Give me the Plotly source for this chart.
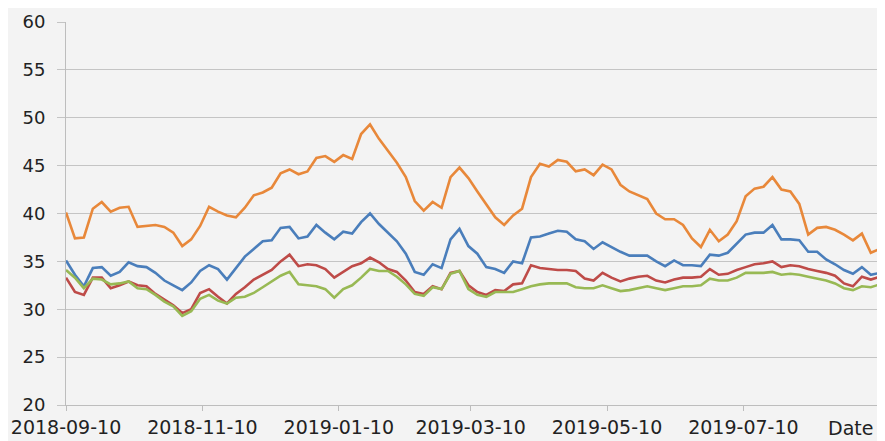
import pandas as pd
import plotly.graph_objects as go

# Sample dates (every 4 days) from 2018-09-10
dates = pd.date_range("2018-09-10", periods=92, freq="4D")

orange = [40.1, 37.4, 37.5, 40.5, 41.2, 40.2, 40.6, 40.7, 38.6, 38.7,
          38.8, 38.6, 38.0, 36.6, 37.3, 38.7, 40.7, 40.2, 39.8, 39.6,
          40.6, 41.9, 42.2, 42.7, 44.2, 44.6, 44.1, 44.4, 45.8, 46.0,
          45.4, 46.1, 45.7, 48.3, 49.3, 47.8, 46.5, 45.3, 43.8, 41.3,
          40.3, 41.2, 40.6, 43.8, 44.8, 43.7, 42.3, 41.0, 39.6, 38.8,
          39.8, 40.5, 43.8, 45.2, 44.9, 45.6, 45.4, 44.4, 44.6, 44.0,
          45.1, 44.6, 43.0, 42.3, 41.9, 41.5, 40.0, 39.4, 39.4, 38.8,
          37.4, 36.5, 38.3, 37.1, 37.8, 39.2, 41.8, 42.6, 42.8, 43.8,
          42.5, 42.3, 41.0, 37.8, 38.5, 38.6, 38.3, 37.8, 37.2, 37.9,
          35.9, 36.3]

blue = [35.1, 33.6, 32.4, 34.3, 34.4, 33.5, 33.9, 34.9, 34.5, 34.4,
        33.8, 33.0, 32.5, 32.0, 32.8, 34.0, 34.6, 34.2, 33.1, 34.3,
        35.5, 36.3, 37.1, 37.2, 38.5, 38.6, 37.4, 37.6, 38.8, 38.0,
        37.3, 38.1, 37.9, 39.1, 40.0, 38.9, 38.0, 37.1, 35.8, 33.9,
        33.6, 34.7, 34.3, 37.3, 38.4, 36.6, 35.8, 34.4, 34.2, 33.8,
        35.0, 34.8, 37.5, 37.6, 37.9, 38.2, 38.1, 37.3, 37.1, 36.3,
        37.0, 36.5, 36.0, 35.6, 35.6, 35.6, 35.0, 34.5, 35.1, 34.6,
        34.6, 34.5, 35.7, 35.6, 35.9, 36.9, 37.8, 38.0, 38.0, 38.8,
        37.3, 37.3, 37.2, 36.0, 36.0, 35.2, 34.7, 34.1, 33.7, 34.4,
        33.6, 33.8]

red = [33.3, 31.8, 31.5, 33.3, 33.3, 32.2, 32.5, 32.9, 32.5, 32.4,
       31.6, 31.0, 30.4, 29.6, 30.0, 31.7, 32.1, 31.3, 30.6, 31.6,
       32.3, 33.1, 33.6, 34.1, 35.0, 35.7, 34.5, 34.7, 34.6, 34.2,
       33.3, 33.9, 34.5, 34.8, 35.4, 34.9, 34.2, 33.9, 33.0, 31.8,
       31.6, 32.4, 32.1, 33.8, 34.0, 32.5, 31.8, 31.5, 32.0, 31.9,
       32.6, 32.7, 34.6, 34.3, 34.2, 34.1, 34.1, 34.0, 33.2, 33.0,
       33.8, 33.3, 32.9, 33.2, 33.4, 33.5, 33.0, 32.8, 33.1, 33.3,
       33.3, 33.4, 34.2, 33.6, 33.7, 34.1, 34.4, 34.7, 34.8, 35.0,
       34.4, 34.6, 34.5, 34.2, 34.0, 33.8, 33.5, 32.7, 32.4, 33.4,
       33.1, 33.4]

green = [34.1, 33.3, 32.2, 33.2, 33.1, 32.6, 32.7, 32.9, 32.2, 32.1,
         31.5, 30.8, 30.3, 29.3, 29.8, 31.1, 31.5, 30.9, 30.6, 31.2,
         31.3, 31.7, 32.3, 32.9, 33.5, 33.9, 32.6, 32.5, 32.4, 32.1,
         31.2, 32.1, 32.5, 33.3, 34.2, 34.0, 34.0, 33.4, 32.6, 31.6,
         31.4, 32.3, 32.1, 33.7, 34.0, 32.1, 31.5, 31.3, 31.8, 31.8,
         31.8, 32.1, 32.4, 32.6, 32.7, 32.7, 32.7, 32.3, 32.2, 32.2,
         32.5, 32.2, 31.9, 32.0, 32.2, 32.4, 32.2, 32.0, 32.2, 32.4,
         32.4, 32.5, 33.2, 33.0, 33.0, 33.3, 33.8, 33.8, 33.8, 33.9,
         33.6, 33.7, 33.6, 33.4, 33.2, 33.0, 32.7, 32.2, 32.0, 32.4,
         32.3, 32.6]

tick_dates = ["2018-09-10", "2018-11-10", "2019-01-10", "2019-03-10",
              "2019-05-10", "2019-07-10", "2019-09-10"]
tick_labels = ["2018-09-10", "2018-11-10", "2019-01-10", "2019-03-10",
               "2019-05-10", "2019-07-10", ""]
axis_title = "Date"

series = [
    ("orange", orange, "#E8883A"),
    ("blue", blue, "#4A7EBB"),
    ("red", red, "#BE4B48"),
    ("green", green, "#98B954"),
]

fig = go.Figure()
for name, vals, col in series:
    fig.add_trace(go.Scatter(x=dates, y=vals, mode="lines", name=name,
                             line=dict(color=col, width=2.6)))

font_fam = "DejaVu Sans"
# The page body adds an 8px margin; the figure is sized to fill the window.
fig.update_layout(
    width=877, height=433,
    margin=dict(l=56, r=3, t=12, b=35),
    paper_bgcolor="#F3F3F3", plot_bgcolor="#F3F3F3",
    showlegend=False,
    font=dict(family=font_fam, size=18, color="#222222"),
)
fig.update_xaxes(
    type="date",
    range=["2018-09-10", "2019-09-10"],
    tickvals=tick_dates, ticktext=tick_labels,
    showgrid=False, showline=True, linecolor="#BDBDBD", linewidth=1,
    ticks="outside", ticklen=5, tickcolor="#BDBDBD",
    tickfont=dict(size=19), zeroline=False,
)
fig.update_yaxes(
    range=[20, 60], dtick=5, tick0=20,
    showgrid=True, gridcolor="#C4C4C4", gridwidth=1,
    showline=True, linecolor="#BDBDBD", linewidth=1,
    ticks="outside", ticklen=8, tickcolor="#C4C4C4",
    tickfont=dict(size=18), zeroline=False,
    ticklabelstandoff=8,
)
fig.add_annotation(text=axis_title, xref="paper", yref="paper",
                   x=1.0, y=0, xshift=-7, yshift=-23,
                   xanchor="right", yanchor="middle",
                   showarrow=False, font=dict(size=19, color="#222222"))

fig.write_html("out.html")
